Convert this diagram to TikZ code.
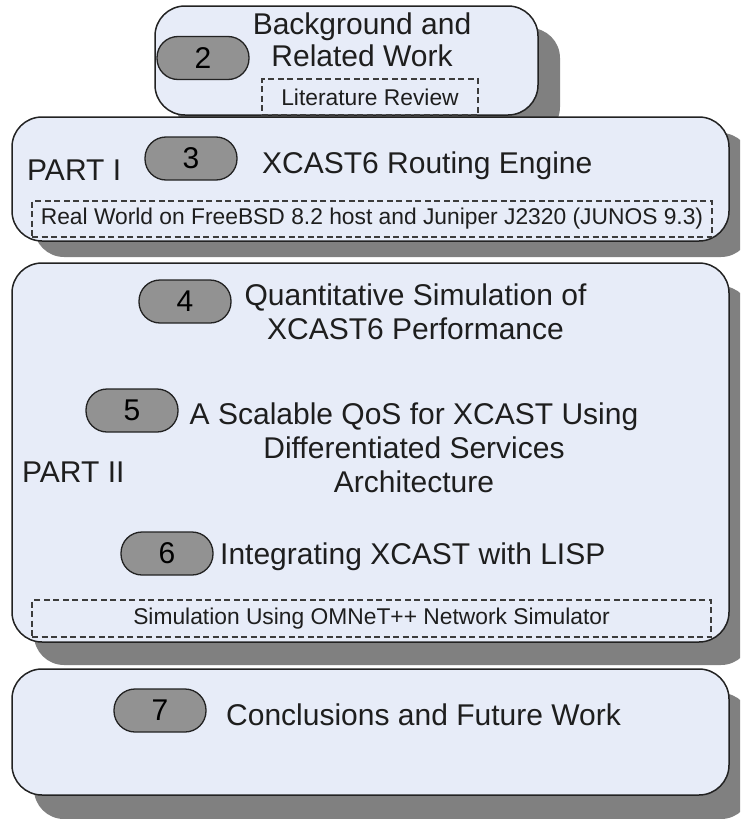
\documentclass[tikz,border=0pt]{standalone}
\usepackage{fontspec}
\setmainfont{Liberation Sans}
\usetikzlibrary{shadows}
\definecolor{boxfill}{RGB}{231,236,248}
\definecolor{shadowgray}{RGB}{128,128,128}
\definecolor{pillgray}{RGB}{146,146,146}
\definecolor{edge}{RGB}{34,34,34}
\definecolor{dashgray}{RGB}{60,60,60}
\definecolor{ink}{RGB}{30,30,30}
\begin{document}
\begin{tikzpicture}[x=1pt,y=-1pt,
  chapterbox/.style={draw=edge, line width=1.5pt, fill=boxfill, rounded corners=30pt, inner sep=0pt},
  shadowed/.style 2 args={drop shadow={shadow xshift=#1, shadow yshift=-#2, fill=shadowgray, opacity=1}},
  pill/.style={draw=edge, line width=1.3pt, fill=pillgray, rounded corners=21pt,
    minimum width=92pt, minimum height=43pt, inner sep=0pt, text=black,
    font=\fontsize{30pt}{34pt}\selectfont},
  title/.style={inner sep=0pt, align=center, text=ink, font=\fontsize{30pt}{34pt}\selectfont},
  dashbox/.style={draw=dashgray, line width=1.3pt, dash pattern=on 6pt off 3.5pt, inner sep=0pt,
    text=ink, font=\fontsize{22.8pt}{26pt}\selectfont}]
\useasboundingbox (0,0) rectangle (740,819);
\clip (0,0) rectangle (740,819);

% chapter frames
\node[chapterbox, shadowed={22pt}{22pt}, minimum width=383pt, minimum height=109pt] (bg) at (346.5,60.5) {};
\node[chapterbox, shadowed={22pt}{16pt}, minimum width=717pt, minimum height=124pt] (p1) at (370.5,179) {};
\node[chapterbox, shadowed={22pt}{23pt}, minimum width=717pt, minimum height=379pt] (p2) at (370.5,452.5) {};
\node[chapterbox, shadowed={22pt}{24pt}, minimum width=717pt, minimum height=126pt] (cf) at (370.5,732) {};

% chapter 2 (multi-line titles are placed by the baseline of their last line)
\node[pill] (n2) at (203,58) {2};
\node[title, anchor=base, font=\fontsize{30pt}{32pt}\selectfont] (t2) at (362,66) {Background and\\Related Work};
\node[dashbox, minimum width=216pt, minimum height=36pt] (lit) at (370,97) {Literature Review};

% part I
\node[title, anchor=base west] (part1) at (27,180) {PART I};
\node[pill] (n3) at (191,158.5) {3};
\node[title, anchor=base west] (t3) at (262,173) {XCAST6 Routing Engine};
\node[dashbox, minimum width=680pt, minimum height=36pt] (rw) at (372,219) {Real World on FreeBSD 8.2 host and Juniper J2320 (JUNOS 9.3)};

% part II
\node[pill] (n4) at (185,301.5) {4};
\node[title, anchor=base] (t4) at (415.5,339) {Quantitative Simulation of\\XCAST6 Performance};
\node[pill] (n5) at (132,410.5) {5};
\node[title, anchor=base] (t5) at (414,492) {A Scalable QoS for XCAST Using\\Differentiated Services\\Architecture};
\node[title, anchor=base west] (part2) at (22,482) {PART II};
\node[pill] (n6) at (167,553.5) {6};
\node[title, anchor=base west] (t6) at (220,564) {Integrating XCAST with LISP};
\node[dashbox, minimum width=679pt, minimum height=37pt] (sim) at (371.5,618.5) {Simulation Using OMNeT++ Network Simulator};

% chapter 7
\node[pill] (n7) at (160,710.5) {7};
\node[title, anchor=base west] (t7) at (226,725) {Conclusions and Future Work};
\end{tikzpicture}
\end{document}
